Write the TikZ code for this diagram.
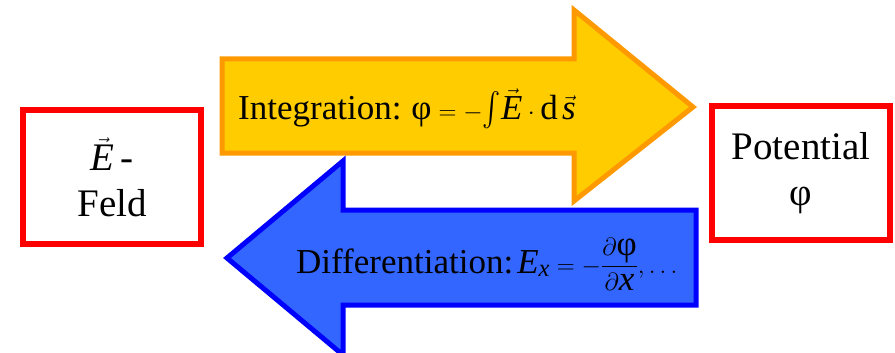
\documentclass[tikz,border=0pt]{standalone}
\usepackage{amsmath}
\usepackage{fontspec}
\setmainfont{Liberation Serif}
\usetikzlibrary{positioning,calc}
\definecolor{boxred}{RGB}{255,0,0}
\definecolor{intfill}{RGB}{255,204,0}
\definecolor{intedge}{RGB}{255,153,0}
\definecolor{difffill}{RGB}{51,102,255}
\definecolor{diffedge}{RGB}{0,0,255}
\newcommand{\vE}{\text{\itshape E}}
\newcommand{\vs}{\text{\itshape s}}
\newcommand{\vx}{\text{\itshape x}}
\newcommand{\vphi}{\text{φ}}

\begin{document}
\begin{tikzpicture}[
    x=1pt, y=-1pt,
    fieldbox/.style={
        draw=boxred,
        line width=6pt,
        fill=white,
        minimum width=178pt,
        minimum height=134pt,
        align=center,
        font=\fontsize{39}{46}\selectfont
    },
    bigarrow/.style={line width=5pt, line join=miter},
    arrowtext/.style={anchor=base west, inner sep=0pt, font=\fontsize{35}{40}\selectfont}
]
\useasboundingbox (0,0) rectangle (895,353);
% arrows
\draw[bigarrow, draw=intedge, fill=intfill]
    (222,59) -- (574,59) -- (574,10) -- (693,107) -- (574,201) -- (574,153) -- (222,153) -- cycle;
\draw[bigarrow, draw=diffedge, fill=difffill]
    (696,210) -- (343,210) -- (343,161) -- (227,258) -- (343,355) -- (343,305) -- (696,305) -- cycle;
\node[arrowtext] (integ) at (238,119)
{Integration:\hspace{10pt}$\vphi = -\scalebox{1.1}[1.35]{$\int$}\vec{\vE}\cdot \mathrm{d}\,\vec{\vs}$};
\node[arrowtext] (diff) at (296,273)
{Differentiation:\hspace{4pt}$\displaystyle\vE_{\vx} = -\frac{\partial \vphi}{\partial \vx},\ldots$};
% boxes
\node[fieldbox] (feld) at (112,177) {$\vec{\vE}$\,-\\Feld};
\node[fieldbox] (pot) at (801,173) {Potential\\φ};
\end{tikzpicture}
\end{document}
